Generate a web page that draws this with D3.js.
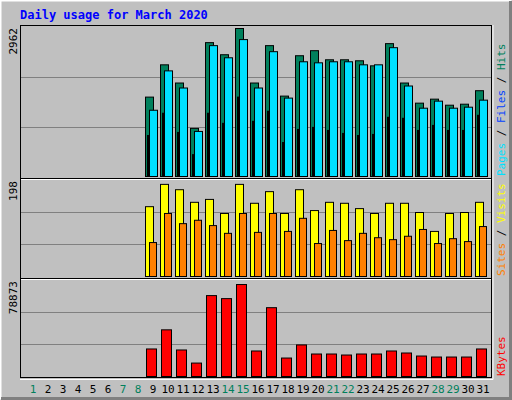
<!DOCTYPE html>
<html><head><meta charset="utf-8">
<script src="https://cdn.jsdelivr.net/npm/d3@7"></script>
<style>body{margin:0;background:#fff}</style></head>
<body><svg id="c" width="512" height="400"></svg>
<script>
const days = d3.range(1, 32);
const weekend = [1,7,8,14,15,21,22,28,29];
const hits  = [0,0,0,0,0,0,0,0,1589,2235,1871,963,2679,2437,2962,1871,2619,1609,2417,2518,2336,2336,2316,2215,2659,1871,1468,1548,1427,1447,1717];
const files = [0,0,0,0,0,0,0,0,1326,2114,1771,902,2619,2376,2740,1771,2498,1569,2296,2275,2296,2296,2235,2235,2578,1811,1367,1508,1367,1387,1528];
const pages = [0,0,0,0,0,0,0,0,821,1266,882,438,1266,1064,1589,1104,1306,680,942,983,922,862,821,842,1185,1165,922,1023,922,922,1225];
const visits= [0,0,0,0,0,0,0,0,144,190,179,153,159,130,190,151,175,130,179,136,153,151,140,130,151,151,132,93,130,132,153];
const sites = [0,0,0,0,0,0,0,0,70,130,109,116,105,89,130,91,130,93,120,68,95,74,89,80,76,83,97,68,78,72,103];
const kbytes= [0,0,0,0,0,0,0,0,22615,38336,21788,11032,66466,63984,75567,20960,56537,15168,25925,18478,18478,17651,18478,18478,20960,19306,16823,15996,15996,15996,22615];
const maxHits = 2962, maxVisits = 198, maxKB = 78873;

const svg = d3.select("#c");
const mono = "DejaVu Sans Mono, monospace";
svg.append("rect").attr("x",0).attr("y",0).attr("width",512).attr("height",400).attr("fill","#c0c0c0");
svg.append("path").attr("d","M0.5,399.5V0.5H511.5").attr("stroke","#fff").attr("fill","none").attr("stroke-width",2);
svg.append("path").attr("d","M1,398.5H510.5V1").attr("stroke","#808080").attr("fill","none").attr("stroke-width",3);

svg.append("text").attr("x",20).attr("y",19).attr("fill","#0000ff").attr("font-family",mono)
  .attr("font-weight","bold").attr("font-size",12).text("Daily usage for March 2020");

const x = d3.scaleBand().domain(days).range([25, 490]).padding(0);
const yT = d3.scaleLinear([0, maxHits], [176, 28]);
const yM = d3.scaleLinear([0, maxVisits], [276, 180]);
const yB = d3.scaleLinear([0, maxKB], [376, 280]);

// plot frame
svg.append("rect").attr("x",20.5).attr("y",25.5).attr("width",471).attr("height",352).attr("fill","#c0c0c0").attr("stroke","#000");
svg.append("path").attr("d","M20,379.5H493V25").attr("stroke","#fff").attr("fill","none");
[[yT,maxHits],[yM,maxVisits],[yB,maxKB]].forEach(([y,m])=>{
  [m/3, 2*m/3].forEach(v=>svg.append("line").attr("x1",21).attr("x2",491).attr("y1",Math.round(y(v))+0.5).attr("y2",Math.round(y(v))+0.5).attr("stroke","#808080"));
});
[178.5, 278.5].forEach(yy=>{
  svg.append("line").attr("x1",21).attr("x2",491).attr("y1",yy).attr("y2",yy).attr("stroke","#000");
  svg.append("line").attr("x1",21).attr("x2",491).attr("y1",yy+1).attr("y2",yy+1).attr("stroke","#fff");
});

function bars(data, y, off, w, color){
  svg.append("g").selectAll("rect").data(days.filter((d,i)=>data[i]>0)).join("rect")
    .attr("x", d=>x(d)+off+0.5).attr("width", w)
    .attr("y", d=>y(data[d-1])+0.5).attr("height", d=>y(0)-y(data[d-1]))
    .attr("fill", color).attr("stroke","#000");
}
bars(hits, yT, 0, 8, "#00805c");
bars(files, yT, 4, 8, "#00e0ff");
bars(pages, yT, 2, 1, "#0040ff");
bars(visits, yM, 0, 8, "#ffff00");
bars(sites, yM, 4, 7, "#ff8000");
bars(kbytes, yB, 1, 10, "#ff0000");

// day labels
svg.append("g").selectAll("text").data(days).join("text")
  .attr("x", d=>x(d)+8).attr("y",393).attr("text-anchor","middle")
  .attr("font-family",mono).attr("font-size",11)
  .attr("fill", d=>weekend.includes(d)?"#00805c":"#000").text(d=>d);

// max labels
[[maxHits,28],[maxVisits,181],[maxKB,281]].forEach(([v,yy])=>{
  svg.append("text").attr("transform",`translate(17,${yy}) rotate(-90)`).attr("text-anchor","end")
    .attr("font-family",mono).attr("font-size",11).attr("fill","#000").text(v);
});

// right legends
function legend(parts, yy){
  const t = svg.append("text").attr("transform",`translate(505,${yy}) rotate(-90)`)
    .attr("font-family",mono).attr("font-size",11);
  parts.forEach(([s,c])=>t.append("tspan").attr("fill",c).text(s));
}
legend([["Pages","#00e0ff"],[" / ","#000"],["Files","#0040ff"],[" / ","#000"],["Hits","#00805c"]], 176);
legend([["Sites","#ff8000"],[" / ","#000"],["Visits","#ffff00"]], 276);
legend([["KBytes","#ff0000"]], 376);
</script></body></html>
